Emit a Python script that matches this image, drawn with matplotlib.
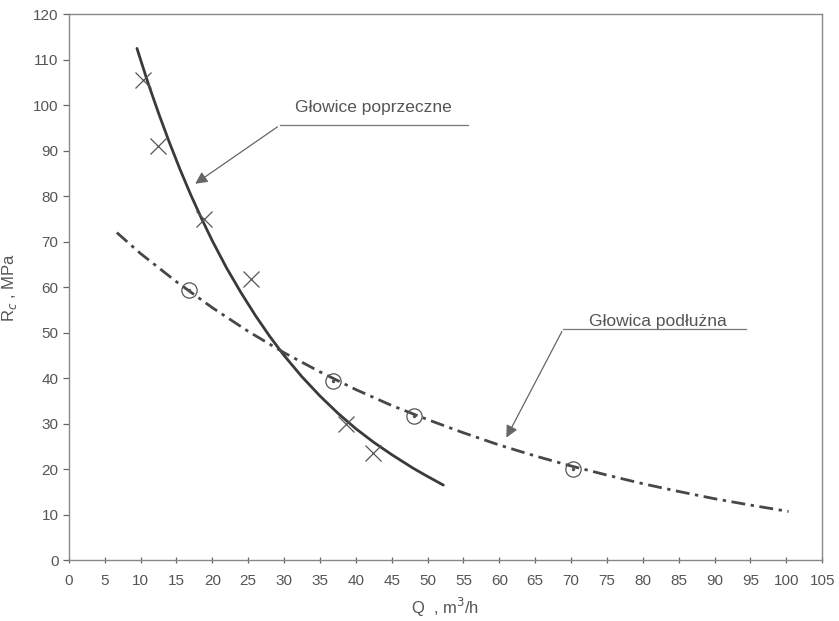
import matplotlib
matplotlib.use('Agg')
import matplotlib.pyplot as plt

plt.rcParams['font.family'] = ['Liberation Sans', 'DejaVu Sans']

# measured points
cross_q = [10.3, 12.4, 18.8, 25.4, 38.7, 42.4]
cross_r = [105.5, 91.0, 75.0, 61.7, 30.0, 23.5]
circle_q = [16.7, 36.8, 48.1, 70.2]
circle_r = [59.3, 39.3, 31.6, 20.0]

# fitted curves
poprz_q = [9.5, 11, 12.5, 14, 15.5, 17, 18.5, 20, 22, 24, 26, 28, 30, 32.5, 35, 37.5, 40, 42.5, 45, 48, 50, 52.2]
poprz_r = [112.5, 105.1, 98.3, 91.9, 85.9, 80.3, 75.1, 70.2, 64.2, 58.8, 53.8, 49.2, 45.0, 40.3, 36.1, 32.3, 28.9, 25.9, 23.2, 20.2, 18.4, 16.5]
podl_q = [6.7, 10, 15, 20, 25, 30, 35, 40, 45, 50, 55, 60, 65, 70, 75, 80, 85, 90, 95, 100.3]
podl_r = [72.0, 67.4, 61.2, 55.5, 50.3, 45.6, 41.4, 37.5, 34.0, 30.9, 28.0, 25.3, 22.9, 20.7, 18.7, 16.8, 15.1, 13.5, 12.1, 10.7]

xticks = list(range(0, 106, 5))
yticks = list(range(0, 121, 10))

txt_col = '#555555'
line_col = '#3a3a3a'

fig = plt.figure(figsize=(8.39, 6.21), dpi=100)
ax = fig.add_axes([0.082, 0.098, 0.898, 0.879])

ax.plot(poprz_q, poprz_r, color=line_col, lw=2.0, solid_capstyle='round')
ax.plot(podl_q, podl_r, color='#474747', lw=2.0, linestyle=(0, (5, 2, 1.2, 2)))

ax.plot(cross_q, cross_r, linestyle='none', marker='x', markersize=11,
        markeredgewidth=0.9, color='#555555')
ax.plot(circle_q, circle_r, linestyle='none', marker='o', markersize=11,
        markerfacecolor='none', markeredgewidth=0.9, color='#555555')
ax.plot(circle_q, circle_r, linestyle='none', marker='.', markersize=3, color='#555555')

# annotations with leader lines
ax.text(42.5, 99.6, 'Głowice poprzeczne', ha='center', va='center', fontsize=12.5, color=txt_col)
ax.plot([29.4, 55.6], [95.6, 95.6], color='#777777', lw=0.9)
ax.annotate('', xy=(17.3, 82.4), xytext=(29.4, 95.6),
            arrowprops=dict(arrowstyle='-|>', color='#666666', lw=0.9, mutation_scale=18))

ax.text(82.1, 52.5, 'Głowica podłużna', ha='center', va='center', fontsize=12.5, color=txt_col)
ax.plot([68.9, 94.4], [50.8, 50.8], color='#777777', lw=0.9)
ax.annotate('', xy=(60.8, 26.4), xytext=(68.9, 50.8),
            arrowprops=dict(arrowstyle='-|>', color='#666666', lw=0.9, mutation_scale=18))

ax.set_xlim(0, 105)
ax.set_ylim(0, 120)
ax.set_xticks(xticks)
ax.set_yticks(yticks)
ax.tick_params(axis='both', colors='#666666', labelcolor=txt_col, labelsize=11, length=4, width=0.9)
ax.tick_params(axis='x', direction='inout', pad=8)
for s in ax.spines.values():
    s.set_color('#888888')
    s.set_linewidth(1.0)

ax.set_xlabel('Q  , m$^3$/h', fontsize=12, color=txt_col, labelpad=6)
ax.set_ylabel('R$_c$ , MPa', fontsize=12, color=txt_col, labelpad=10)

fig.savefig('out.png', dpi=100)
